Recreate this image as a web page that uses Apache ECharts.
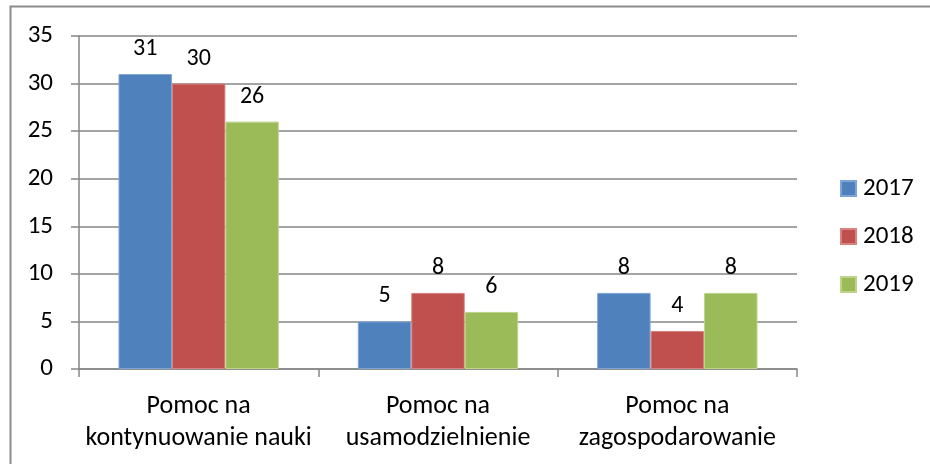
<!DOCTYPE html>
<html>
<head>
<meta charset="utf-8">
<script src="https://cdn.jsdelivr.net/npm/echarts@6/dist/echarts.min.js"></script>
<style>
  html, body { margin: 0; padding: 0; background: #fff; }
  #main { width: 930px; height: 464px; }
</style>
</head>
<body>
<div id="main"></div>
<script>
// data
const categories = ['Pomoc na\nkontynuowanie nauki', 'Pomoc na\nusamodzielnienie', 'Pomoc na\nzagospodarowanie']
const years = ['2017', '2018', '2019']
const values2017 = [31, 5, 8]
const values2018 = [30, 8, 4]
const values2019 = [26, 6, 8]
const colors = ['#4F81BD', '#C0504D', '#9BBB59']
const edges = ['#7FA5D6', '#D98280', '#BDD48A']

const font = 'Carlito, Liberation Sans, Arial, sans-serif'
const seriesData = [values2017, values2018, values2019]

const myChart = echarts.init(document.getElementById('main'))
const option = {
  animation: false,
  textStyle: { fontFamily: font },
  graphic: [
    {
      type: 'rect',
      shape: { x: 10.5, y: 6.5, width: 940, height: 480 },
      style: { fill: 'none', stroke: '#8c8c8c', lineWidth: 2 },
      silent: true,
    },
  ],
  grid: { left: 79, right: 133, top: 36, bottom: 95 },
  legend: {
    orient: 'vertical',
    left: 840,
    top: 176,
    padding: 0,
    itemWidth: 15,
    itemHeight: 15,
    itemGap: 23,
    icon: 'rect',
    textStyle: { fontSize: 25, color: '#000', fontFamily: font, padding: [0, 0, 0, 2] },
    data: years,
  },
  xAxis: {
    type: 'category',
    data: categories,
    axisLine: { lineStyle: { color: '#868686', width: 1.5 } },
    axisTick: { show: true, length: 8, alignWithLabel: false, lineStyle: { color: '#868686', width: 1.5 } },
    axisLabel: { interval: 0, fontSize: 26, color: '#000', margin: 21, lineHeight: 32, fontFamily: font },
  },
  yAxis: {
    type: 'value',
    min: 0,
    max: 35,
    interval: 5,
    axisLine: { show: true, lineStyle: { color: '#868686', width: 1.5 } },
    axisTick: { show: true, length: 8, lineStyle: { color: '#868686', width: 1.5 } },
    splitLine: { lineStyle: { color: '#868686', width: 1.5 } },
    axisLabel: { fontSize: 25, color: '#000', margin: 26, fontFamily: font },
  },
  series: years.map((y, i) => ({
    name: y,
    type: 'bar',
    barGap: '0%',
    barCategoryGap: '33%',
    itemStyle: { color: colors[i], borderColor: edges[i], borderWidth: 1 },
    label: { show: true, position: 'top', distance: 13, fontSize: 24, color: '#000', fontFamily: font },
    data: seriesData[i],
  })),
}
option && myChart.setOption(option)
</script>
</body>
</html>
